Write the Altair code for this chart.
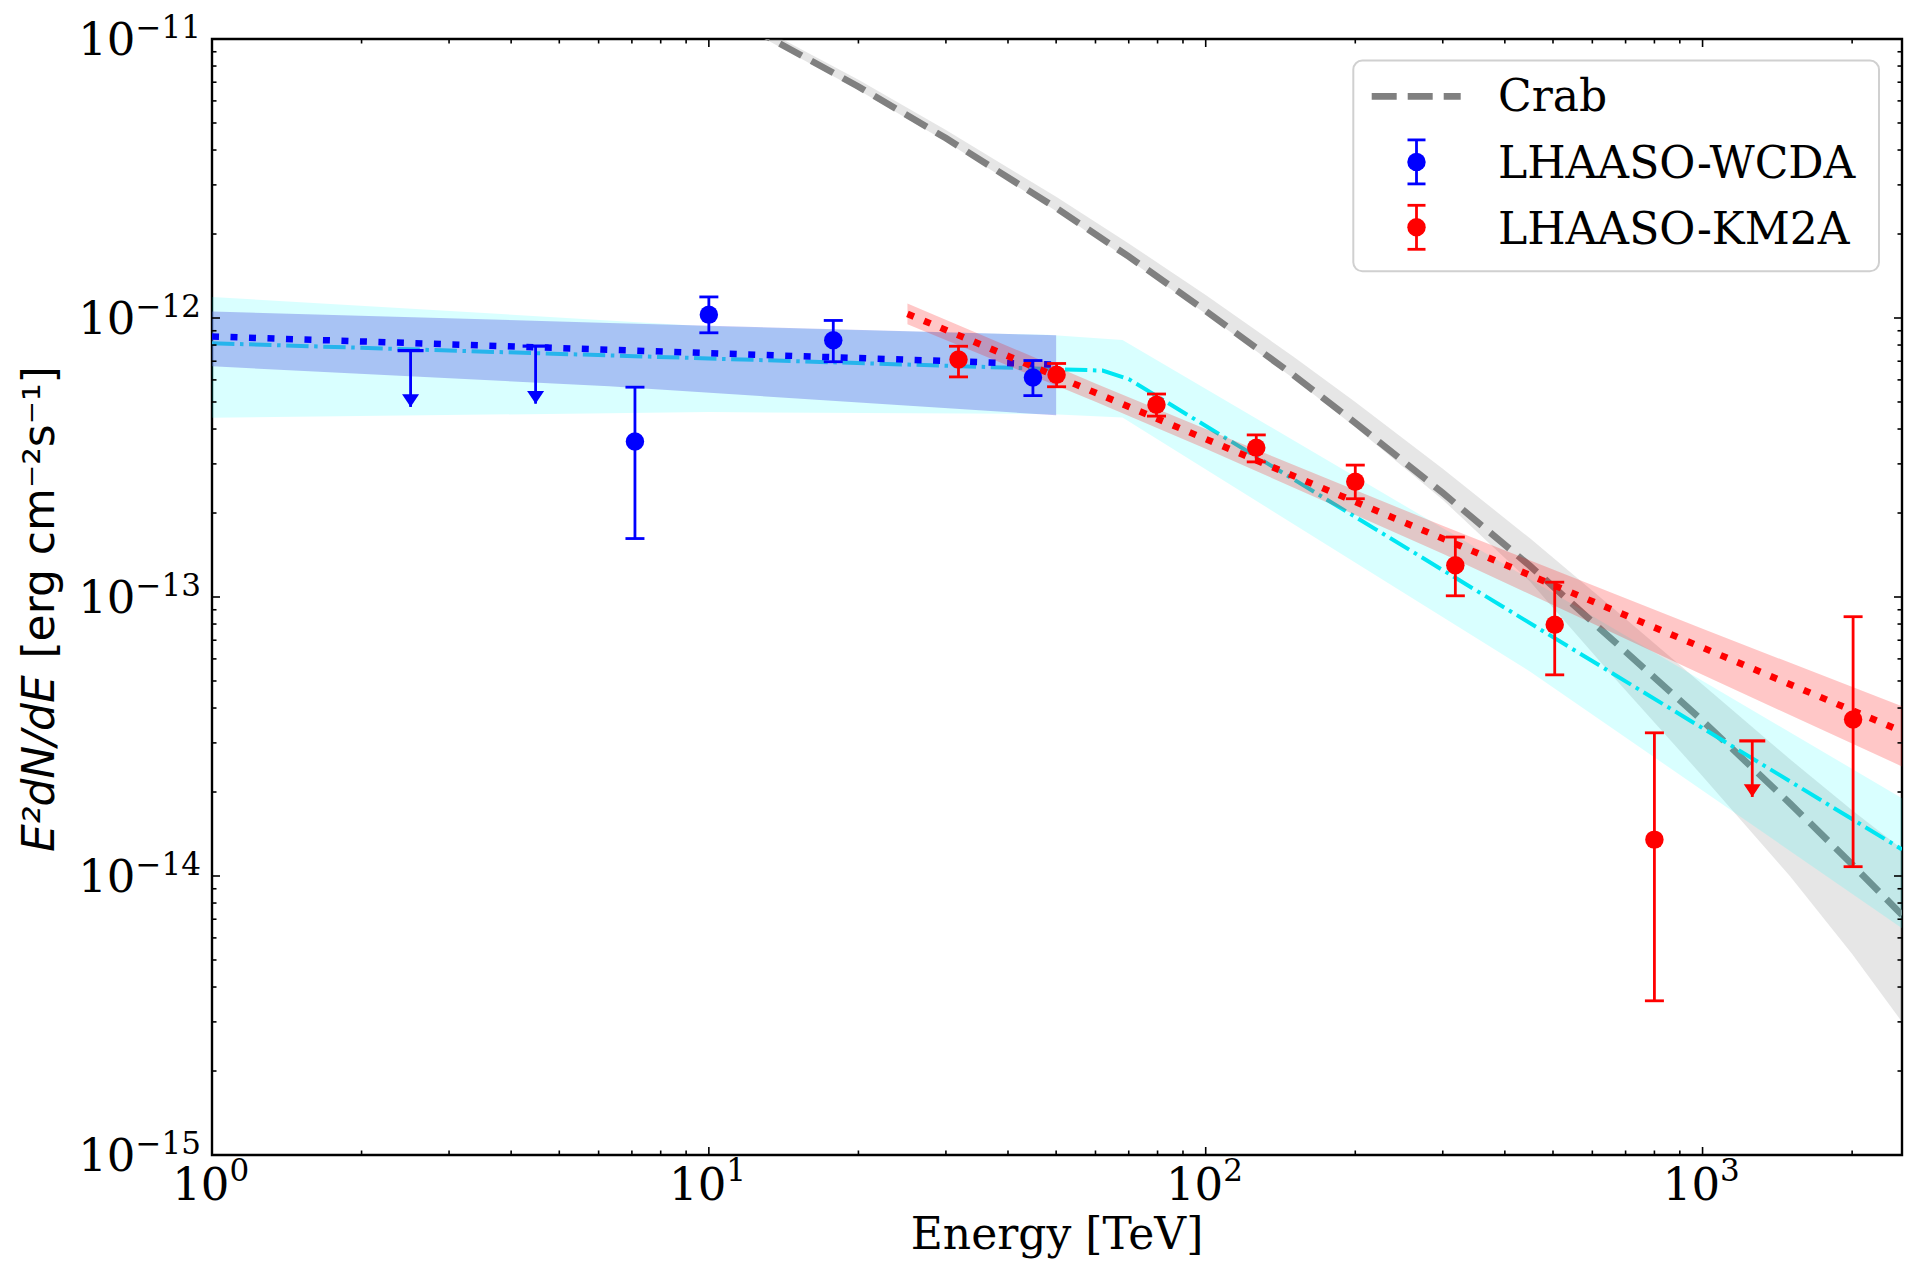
import altair as alt
import pandas as pd

# ---------------- values ----------------
# LHAASO-WCDA flux points  (E [TeV], E^2 dN/dE [erg cm^-2 s^-1])
wcda_E = [7.1, 10.0, 17.8, 44.9]
wcda_F = [3.61e-13, 1.028e-12, 8.32e-13, 6.12e-13]
wcda_lo = [1.62e-13, 8.85e-13, 6.97e-13, 5.27e-13]
wcda_hi = [5.65e-13, 1.19e-12, 9.80e-13, 7.04e-13]
wcda_ul_E = [2.51, 4.48]
wcda_ul_F = [7.64e-13, 7.93e-13]
wcda_ul_tip = [4.80e-13, 4.93e-13]

# LHAASO-KM2A flux points
km2a_E = [31.8, 50.1, 79.6, 126.4, 200.0, 318.0, 504.0, 800.0, 2009.0]
km2a_F = [7.10e-13, 6.26e-13, 4.89e-13, 3.43e-13, 2.59e-13, 1.30e-13, 7.95e-14, 1.35e-14, 3.64e-14]
km2a_lo = [6.15e-13, 5.67e-13, 4.45e-13, 3.05e-13, 2.25e-13, 1.01e-13, 5.26e-14, 3.57e-15, 1.08e-14]
km2a_hi = [7.92e-13, 6.87e-13, 5.34e-13, 3.81e-13, 2.97e-13, 1.64e-13, 1.13e-13, 3.26e-14, 8.50e-14]
km2a_ul_E = [1259.0]
km2a_ul_F = [3.05e-14]
km2a_ul_tip = [1.92e-14]

# Crab reference spectrum and its band
crab_E = [12, 20, 30, 50, 70, 100, 150, 200, 300, 450, 660, 1000, 1500, 2000, 2520]
crab_F = [1.11e-11, 6.75e-12, 4.41e-12, 2.48e-12, 1.66e-12, 1.06e-12, 6.25e-13, 4.21e-13,
          2.36e-13, 1.29e-13, 7.0e-14, 3.6e-14, 1.82e-14, 1.1e-14, 7.25e-15]
crab_hi = [1.16e-11, 7.14e-12, 4.72e-12, 2.72e-12, 1.85e-12, 1.21e-12, 7.28e-13, 5.0e-13,
           2.88e-13, 1.62e-13, 9.14e-14, 4.86e-14, 2.62e-14, 1.72e-14, 1.25e-14]
crab_lo = [1.08e-11, 6.56e-12, 4.29e-12, 2.42e-12, 1.62e-12, 1.035e-12, 6.08e-13, 4.06e-13,
           2.23e-13, 1.135e-13, 5.2e-14, 2.28e-14, 9.98e-15, 5.25e-15, 3.0e-15]

# combined (cyan) model and band
comb_E = [1, 62, 70, 2520]
comb_F = [8.12e-13, 6.48e-13, 6.04e-13, 1.245e-14]
comb_band_E = [1, 10, 48, 68, 450, 2520]
comb_band_hi = [1.19e-12, 9.33e-13, 8.70e-13, 8.34e-13, 1.156e-13, 1.90e-14]
comb_band_lo = [4.39e-13, 4.60e-13, 4.53e-13, 4.40e-13, 5.40e-14, 6.50e-15]

# WCDA power-law fit and band
wcda_fit_E = [1, 50]
wcda_fit_F = [8.59e-13, 6.80e-13]
wcda_band_E = [1, 6.3, 50]
wcda_band_hi = [1.055e-12, 9.60e-13, 8.67e-13]
wcda_band_lo = [6.71e-13, 5.69e-13, 4.48e-13]

# KM2A power-law fit and band
km2a_fit_E = [25.1, 2520]
km2a_fit_F = [1.035e-12, 3.30e-14]
km2a_band_E = [25.1, 60, 100, 300, 1000, 2520]
km2a_band_hi = [1.127e-12, 5.83e-13, 4.00e-13, 1.80e-13, 7.69e-14, 4.06e-14]
km2a_band_lo = [9.50e-13, 5.01e-13, 3.40e-13, 1.43e-13, 5.26e-14, 2.47e-14]

# axis ticks / labels
x_major = [1, 10, 100, 1000]
x_exp = ["0", "1", "2", "3"]
y_major = [1e-15, 1e-14, 1e-13, 1e-12, 1e-11]
y_exp = ["\u221215", "\u221214", "\u221213", "\u221212", "\u221211"]
x_minor = [m * d for d in (1, 10, 100) for m in range(2, 10)] + [2000]
y_minor = [m * d for d in (1e-15, 1e-14, 1e-13, 1e-12) for m in range(2, 10)]

legend_labels = ["Crab", "LHAASO-WCDA", "LHAASO-KM2A"]

# ---------------- chart ----------------
W, H = 1690, 1116
SERIF = "DejaVu Serif"
SANS = "DejaVu Sans"
XS = alt.Scale(type="log", domain=[1, 2520], nice=False)
YS = alt.Scale(type="log", domain=[1e-15, 1e-11], nice=False)


def ex(f):
    return alt.X(f"{f}:Q", scale=XS, axis=None)


def ey(f):
    return alt.Y(f"{f}:Q", scale=YS, axis=None)


def band(E, lo, hi, color, op):
    df = pd.DataFrame({"E": E, "lo": lo, "hi": hi})
    return alt.Chart(df).mark_area(color=color, opacity=op, clip=True).encode(
        x=ex("E"), y=ey("hi"), y2="lo:Q")


def line(E, F, color, width, dash):
    df = pd.DataFrame({"E": E, "F": F})
    return alt.Chart(df).mark_line(color=color, strokeWidth=width, strokeDash=dash,
                                   clip=True).encode(x=ex("E"), y=ey("F"))


def points(E, F, lo, hi, color):
    df = pd.DataFrame({"E": E, "F": F, "lo": lo, "hi": hi})
    base = alt.Chart(df)
    bars = base.mark_rule(color=color, strokeWidth=2.8).encode(
        x=ex("E"), y=ey("lo"), y2="hi:Q")
    cap_lo = base.mark_rule(color=color, strokeWidth=2.8, xOffset=-9.5, x2Offset=9.5).encode(
        x=ex("E"), x2="E:Q", y=ey("lo"))
    cap_hi = base.mark_rule(color=color, strokeWidth=2.8, xOffset=-9.5, x2Offset=9.5).encode(
        x=ex("E"), x2="E:Q", y=ey("hi"))
    dots = base.mark_point(filled=True, shape="circle", size=340, color=color,
                           opacity=1).encode(x=ex("E"), y=ey("F"))
    return [bars, cap_lo, cap_hi, dots]


def uplims(E, F, tip, color):
    df = pd.DataFrame({"E": E, "F": F, "tip": tip})
    base = alt.Chart(df)
    stem = base.mark_rule(color=color, strokeWidth=2.8).encode(
        x=ex("E"), y=ey("F"), y2="tip:Q")
    cap = base.mark_rule(color=color, strokeWidth=3.2, xOffset=-13, x2Offset=13).encode(
        x=ex("E"), x2="E:Q", y=ey("F"))
    head = base.mark_point(shape="M0,0L-1,-1.5L1,-1.5Z", size=289, filled=True,
                           color=color, opacity=1).encode(x=ex("E"), y=ey("tip"))
    return [stem, cap, head]


layers = []
layers.append(band(crab_E, crab_lo, crab_hi, "#808080", 0.2))
layers.append(line(crab_E, crab_F, "#808080", 6.7, [25, 11]))
layers.append(band(comb_band_E, comb_band_lo, comb_band_hi, "#00ffff", 0.15))
layers.append(line(comb_E, comb_F, "#00e6f2", 4, [22.4, 5.6, 3.5, 5.6]))
layers.append(band(wcda_band_E, wcda_band_lo, wcda_band_hi, "#5f6ae4", 0.4))
layers.append(line(wcda_fit_E, wcda_fit_F, "#0000ff", 6.5, [7, 11.5]))
layers.append(band(km2a_band_E, km2a_band_lo, km2a_band_hi, "#ff0000", 0.22))
layers.append(line(km2a_fit_E, km2a_fit_F, "#ff0000", 6.7, [7, 11]))
layers += points(wcda_E, wcda_F, wcda_lo, wcda_hi, "#0000ff")
layers += uplims(wcda_ul_E, wcda_ul_F, wcda_ul_tip, "#0000ff")
layers += points(km2a_E, km2a_F, km2a_lo, km2a_hi, "#ff0000")
layers += uplims(km2a_ul_E, km2a_ul_F, km2a_ul_tip, "#ff0000")

# inward ticks on all four sides
for vals, L in ((x_major, 8), (x_minor, 4.5)):
    d = pd.DataFrame({"v": vals})
    layers.append(alt.Chart(d).mark_rule(color="black", strokeWidth=1.6).encode(
        x=ex("v"), y=alt.value(H), y2=alt.value(H - L)))
    layers.append(alt.Chart(d).mark_rule(color="black", strokeWidth=1.6).encode(
        x=ex("v"), y=alt.value(0), y2=alt.value(L)))
for vals, L in ((y_major, 8), (y_minor, 4.5)):
    d = pd.DataFrame({"v": vals})
    layers.append(alt.Chart(d).mark_rule(color="black", strokeWidth=1.6).encode(
        y=ey("v"), x=alt.value(0), x2=alt.value(L)))
    layers.append(alt.Chart(d).mark_rule(color="black", strokeWidth=1.6).encode(
        y=ey("v"), x=alt.value(W), x2=alt.value(W - L)))

# tick labels 10^n
ylab = pd.DataFrame({"v": y_major, "e": y_exp})
layers.append(alt.Chart(ylab).mark_text(text="10", font=SERIF, fontSize=45, align="right",
                                        baseline="alphabetic", dy=15.6, color="black").encode(
    x=alt.value(-76.5), y=ey("v")))
layers.append(alt.Chart(ylab).mark_text(font=SERIF, fontSize=31, align="left",
                                        baseline="alphabetic", dy=-1, color="black").encode(
    x=alt.value(-76.5), y=ey("v"), text="e:N"))
xlab = pd.DataFrame({"v": x_major, "e": x_exp})
layers.append(alt.Chart(xlab).mark_text(text="10", font=SERIF, fontSize=45, align="right",
                                        baseline="alphabetic", dx=17.5, color="black").encode(
    x=ex("v"), y=alt.value(H + 44.6)))
layers.append(alt.Chart(xlab).mark_text(font=SERIF, fontSize=31, align="left",
                                        baseline="alphabetic", dx=17.5, color="black").encode(
    x=ex("v"), y=alt.value(H + 26.2), text="e:N"))

one = pd.DataFrame({"a": [0]})
# axis titles
layers.append(alt.Chart(one).mark_text(text="Energy [TeV]", font=SERIF, fontSize=44,
                                       align="center", baseline="alphabetic", color="black").encode(
    x=alt.value(W / 2), y=alt.value(1209.6)))
layers.append(alt.Chart(one).mark_text(text="E\u00b2dN/dE", font=SANS, fontSize=44, fontStyle="italic",
                                       angle=270, align="left", baseline="alphabetic",
                                       color="black").encode(
    x=alt.value(-157.8), y=alt.value(813)))
layers.append(alt.Chart(one).mark_text(text="[erg cm\u207b\u00b2s\u207b\u00b9]", font=SANS, fontSize=44,
                                       angle=270, align="left", baseline="alphabetic",
                                       color="black").encode(
    x=alt.value(-157.8), y=alt.value(619.6)))

# legend
layers.append(alt.Chart(one).mark_rect(fill="white", fillOpacity=0.8, stroke="#d0d0d0",
                                       strokeWidth=2, cornerRadius=9).encode(
    x=alt.value(1141.3), x2=alt.value(1667), y=alt.value(21.6), y2=alt.value(232.3)))
layers.append(alt.Chart(one).mark_rule(color="#808080", strokeWidth=6.7, strokeDash=[25, 11]).encode(
    x=alt.value(1159.7), x2=alt.value(1248.7), y=alt.value(57.3)))
for col, yc in (("#0000ff", 122.9), ("#ff0000", 188.3)):
    layers.append(alt.Chart(one).mark_rule(color=col, strokeWidth=2.8).encode(
        x=alt.value(1204.5), y=alt.value(yc - 22), y2=alt.value(yc + 22)))
    for yy in (yc - 22, yc + 22):
        layers.append(alt.Chart(one).mark_rule(color=col, strokeWidth=2.8).encode(
            x=alt.value(1195.5), x2=alt.value(1213.5), y=alt.value(yy)))
    layers.append(alt.Chart(one).mark_point(filled=True, shape="circle", size=340, color=col,
                                            opacity=1).encode(x=alt.value(1204.5), y=alt.value(yc)))
for lab, yb in zip(legend_labels, (72.3, 138.9, 204.6)):
    layers.append(alt.Chart(one).mark_text(text=lab, font=SERIF, fontSize=44, align="left",
                                           baseline="alphabetic", color="black").encode(
        x=alt.value(1286), y=alt.value(yb)))

chart = alt.layer(*layers).properties(
    width=W, height=H,
    padding={"left": 204, "top": 31, "right": 8, "bottom": 105},
    autosize=alt.AutoSizeParams(type="none"),
    background="white",
).configure_view(stroke="black", strokeWidth=2.4)

chart.save("out.html", embed_options={"renderer": "svg", "actions": False})
